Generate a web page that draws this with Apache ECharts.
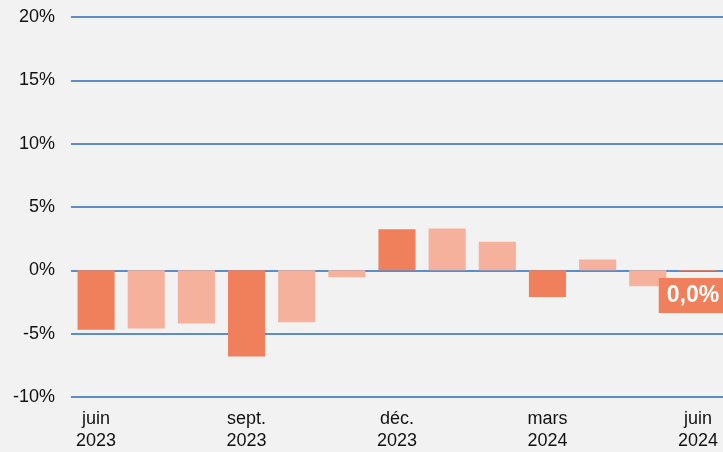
<!DOCTYPE html>
<html>
<head>
<meta charset="utf-8">
<script src="https://cdn.jsdelivr.net/npm/echarts@6/dist/echarts.min.js"></script>
<style>
  html, body { margin: 0; padding: 0; background: #f2f2f2; }
  #chart { width: 723px; height: 452px; }
</style>
</head>
<body>
<div id="chart"></div>
<script>
// monthly change, June 2023 -> June 2024
const months = ['juin\n2023', 'juil.\n2023', 'août\n2023', 'sept.\n2023', 'oct.\n2023', 'nov.\n2023',
  'déc.\n2023', 'janv.\n2024', 'févr.\n2024', 'mars\n2024', 'avr.\n2024', 'mai\n2024', 'juin\n2024']
const values = [-4.7, -4.6, -4.2, -6.8, -4.1, -0.55, 3.25, 3.3, 2.25, -2.1, 0.85, -1.25, -0.05]
const lastLabel = '0,0%'

const dark = '#f07f5c'
const light = '#f5b19b'
const gridBlue = '#2d68bb'

let chart = echarts.init(document.getElementById('chart'))
chart.setOption({
  backgroundColor: '#f2f2f2',
  animation: false,
  grid: { left: 71, right: 0, top: 17, bottom: 55, containLabel: false },
  xAxis: {
    type: 'category',
    data: months,
    axisLine: { show: false },
    axisTick: { show: false },
    axisLabel: {
      interval: 2,
      margin: 11,
      color: '#111',
      fontFamily: 'Liberation Sans, Arial, sans-serif',
      fontSize: 18,
      lineHeight: 22
    }
  },
  yAxis: {
    type: 'value',
    min: -10,
    max: 20,
    interval: 5,
    axisLine: { show: false },
    axisTick: { show: false },
    axisLabel: {
      formatter: '{value}%',
      margin: 16,
      color: '#111',
      fontFamily: 'Liberation Sans, Arial, sans-serif',
      fontSize: 18
    },
    splitLine: { lineStyle: { color: gridBlue, width: 1.5 } }
  },
  series: [{
    type: 'bar',
    barWidth: '74%',
    data: values.map((v, i) => {
      if (i !== values.length - 1) return v
      return {
        value: v,
        label: {
          show: true,
          position: 'bottom',
          distance: 7,
          offset: [-5, 0],
          formatter: lastLabel,
          color: '#fff',
          fontWeight: 'bold',
          fontFamily: 'Liberation Sans, Arial, sans-serif',
          fontSize: 23,
          backgroundColor: dark,
          padding: [6, 8, 6, 8]
        }
      }
    }),
    itemStyle: {
      color: (p) => p.dataIndex % 3 === 0 ? dark : light
    }
  }]
})
</script>
</body>
</html>
